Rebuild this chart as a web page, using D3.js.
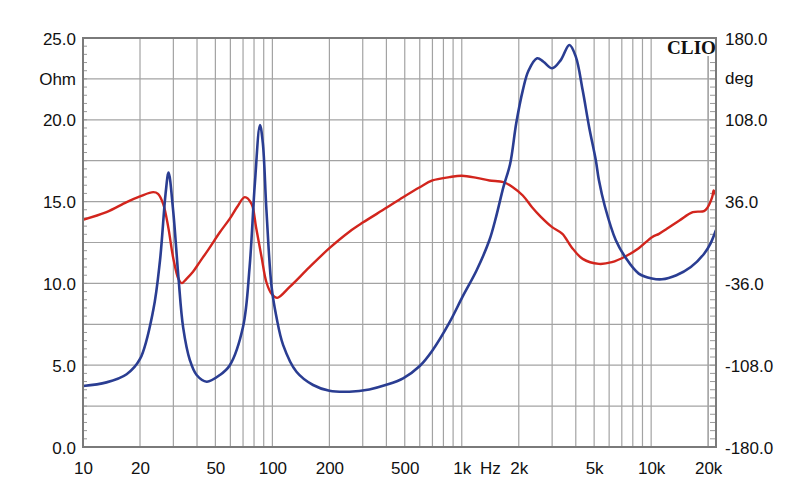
<!DOCTYPE html>
<html><head><meta charset="utf-8">
<script src="https://cdn.jsdelivr.net/npm/d3@7/dist/d3.min.js"></script>
<style>body{margin:0;background:#fff} svg{display:block}</style>
</head><body><svg id="c" width="800" height="504"></svg>
<script>
// Impedance magnitude (Ohm), left axis
const impFreq = [10,13.3,17,20,23.5,25.5,27.3,28.3,29.9,31.9,33.8,36.7,39.8,45,52.8,59.6,70,75.8,80.8,86,89,93,99,105,114,134,164,200,255,325,400,490,600,700,860,1010,1200,1400,1520,1660,1800,1940,2100,2250,2500,2700,3000,3330,3700,4000,4350,4700,5100,5300,5700,6500,7300,8600,10100,11400,13600,16200,19000,20600,22000];
const impOhm  = [3.73,3.95,4.45,5.38,8.37,11.4,15.5,16.77,14.5,10.4,7.3,5.3,4.4,3.99,4.4,5.0,7.35,11.0,16.1,19.68,18.6,14.5,9.8,7.96,6.23,4.6,3.79,3.44,3.38,3.52,3.8,4.2,4.95,5.9,7.6,9.19,10.82,12.65,14.1,15.9,17.3,19.8,21.8,23.0,23.76,23.55,23.15,23.65,24.57,23.86,21.8,19.58,17.54,16.3,14.7,12.65,11.6,10.6,10.3,10.25,10.5,11.0,11.8,12.45,13.26];
// Impedance phase (deg), right axis
const phaseFreq = [10,13.3,17,20,23.5,24.9,26.5,28.2,29.9,31.9,33.2,35.2,38,41.4,46,52.8,59.6,65,71.5,77.6,82,87.7,93,99,106,123,157,200,255,300,400,490,600,700,860,1000,1200,1400,1660,1860,2100,2350,2600,3000,3400,3800,4350,5300,6200,7300,8600,10100,11000,12100,14100,16600,19000,19800,21000,21400,22000];
const phaseDeg  = [20,26.7,35.5,40.5,44.3,42.8,34,13.5,-13,-32,-35.8,-32,-26,-17,-6,9,21,31,39.9,34,13.5,-13,-35,-45.2,-48.7,-39.3,-21.7,-5,9.5,17.5,30.5,39.9,48.7,54.6,57.5,58.7,56.9,54.6,53.1,48.7,41.4,31,23,13.5,7.6,-4.1,-14.4,-18.8,-17.3,-12.3,-5,4.7,7.6,12,19.4,26.7,27.6,30.5,39.9,45.8,41.4];

const ohmTicks = [0,5,10,15,20,25];
const degTicks = [-180,-108,-36,36,108,180];
const freqTickValues = [10,20,50,100,200,500,1000,2000,5000,10000,20000];
const freqTickLabels = ["10","20","50","100","200","500","1k","2k","5k","10k","20k"];

const svg = d3.select("#c");
const L=83,R=716,T=38,B=447;
const x = d3.scaleLog().domain([10,22000]).range([L,R]);
const yO = d3.scaleLinear().domain([0,25]).range([B,T]);
const yD = d3.scaleLinear().domain([-180,180]).range([B,T]);
const font = "'Liberation Sans', Arial, sans-serif";
const fmt = d => d.toFixed(1);

// grid
const vgrid = [];
for (let d=10; d<=10000; d*=10) for (let m=1; m<=9; m++) { const f=d*m; if (f>10 && f<=20000) vgrid.push(f); }
vgrid.push(20000);
svg.append("g").selectAll("line").data(vgrid).join("line")
  .attr("x1",d=>x(d)).attr("x2",d=>x(d)).attr("y1",T).attr("y2",B)
  .attr("stroke","#a3a3a3").attr("stroke-width",1.2);
const hgrid = d3.range(2.5,25,2.5);
svg.append("g").selectAll("line").data(hgrid).join("line")
  .attr("x1",L).attr("x2",R).attr("y1",d=>yO(d)).attr("y2",d=>yO(d))
  .attr("stroke","#a3a3a3").attr("stroke-width",1.2);

// minor ticks
svg.append("g").selectAll("line").data(d3.range(0.5,25,0.5)).join("line")
  .attr("x1",L).attr("x2",L+4).attr("y1",d=>yO(d)).attr("y2",d=>yO(d))
  .attr("stroke","#999").attr("stroke-width",1);
svg.append("g").selectAll("line").data(d3.range(-180+7.2,180,7.2)).join("line")
  .attr("x1",R-6).attr("x2",R).attr("y1",d=>yD(d)).attr("y2",d=>yD(d))
  .attr("stroke","#999").attr("stroke-width",1);

// curves
svg.append("clipPath").attr("id","clip").append("rect").attr("x",L).attr("y",T).attr("width",R-L).attr("height",B-T);
const impData = impFreq.map((f,i)=>({f, v:impOhm[i]}));
const phData = phaseFreq.map((f,i)=>({f, v:phaseDeg[i]}));
const g = svg.append("g").attr("clip-path","url(#clip)");
const curve = d3.curveCatmullRom.alpha(0.5);
g.append("path").datum(phData)
  .attr("d", d3.line().x(d=>x(d.f)).y(d=>yD(d.v)).curve(curve))
  .attr("fill","none").attr("stroke","#d2251d").attr("stroke-width",2.4).attr("stroke-linejoin","round");
g.append("path").datum(impData)
  .attr("d", d3.line().x(d=>x(d.f)).y(d=>yO(d.v)).curve(curve))
  .attr("fill","none").attr("stroke","#2a3d92").attr("stroke-width",2.6).attr("stroke-linejoin","round");

// border
svg.append("rect").attr("x",L).attr("y",T).attr("width",R-L).attr("height",B-T)
  .attr("fill","none").attr("stroke","#7a7a7a").attr("stroke-width",2);

// CLIO label
svg.append("rect").attr("x",665).attr("y",T+1).attr("width",R-666).attr("height",17).attr("fill","#fff");
svg.append("text").attr("x",R).attr("y",53.5).attr("text-anchor","end")
  .attr("font-family","'Liberation Serif', 'Times New Roman', serif").attr("font-weight","bold")
  .attr("font-size",18).attr("textLength",49).attr("lengthAdjust","spacingAndGlyphs").attr("fill","#111").text("CLIO");

// axes
const axL = svg.append("g").attr("transform",`translate(${L},0)`)
  .call(d3.axisLeft(yO).tickValues(ohmTicks).tickFormat(fmt).tickSize(0).tickPadding(7));
const axR = svg.append("g").attr("transform",`translate(${R},0)`)
  .call(d3.axisRight(yD).tickValues(degTicks).tickFormat(fmt).tickSize(0).tickPadding(9));
const axB = svg.append("g").attr("transform",`translate(0,${B})`)
  .call(d3.axisBottom(x).tickValues(freqTickValues).tickFormat((d,i)=>freqTickLabels[i]).tickSize(0).tickPadding(15));
[axL,axR,axB].forEach(a=>{
  a.select(".domain").remove();
  a.selectAll("text").attr("font-family",font).attr("font-size",17).attr("fill","#111");
});
axL.selectAll("text").attr("dy","0.36em");
axR.selectAll("text").attr("dy","0.36em");

svg.append("text").attr("x",L-7).attr("y",yO(22.5)).attr("dy","0.36em").attr("text-anchor","end")
  .attr("font-family",font).attr("font-size",17).attr("fill","#111").text("Ohm");
svg.append("text").attr("x",R+9).attr("y",yD(144)).attr("dy","0.30em").attr("text-anchor","start")
  .attr("font-family",font).attr("font-size",17).attr("fill","#111").text("deg");
svg.append("text").attr("x",(x(1000)+x(2000))/2).attr("y",B+15).attr("dy","0.71em").attr("text-anchor","middle")
  .attr("font-family",font).attr("font-size",17).attr("fill","#111").text("Hz");
</script></body></html>
